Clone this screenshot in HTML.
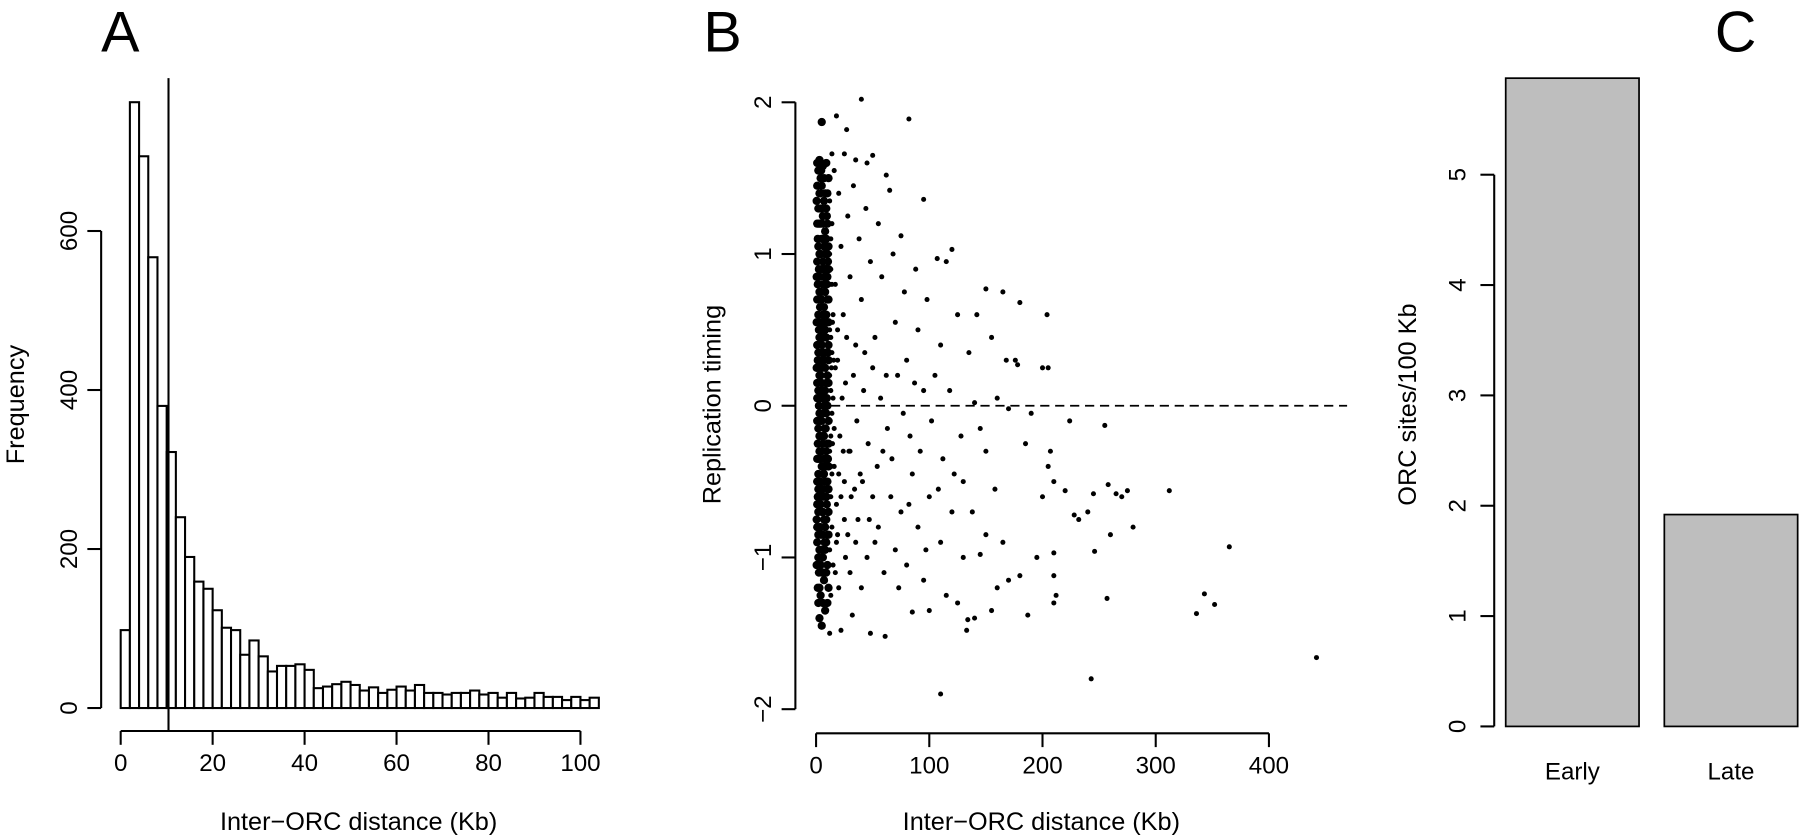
<!DOCTYPE html>
<html><head><meta charset="utf-8">
<style>
html,body{margin:0;padding:0;background:#fff;overflow:hidden;}
svg{display:block;font-family:"Liberation Sans",Arial,sans-serif;}
</style></head>
<body>
<svg id="fig" width="1800" height="835" viewBox="0 0 1800 835" xmlns="http://www.w3.org/2000/svg">
<g transform="scale(1.1494)">
<g id="pA"></g>
<g id="pB"></g>
<g id="pC"></g>
<g font-family="Liberation Sans, sans-serif">
<text x="88" y="45" font-size="50">A</text>
<text x="612" y="45" font-size="50">B</text>
<text x="1492" y="45" font-size="50">C</text>
<text x="312" y="722" font-size="22" text-anchor="middle">Inter−ORC distance (Kb)</text>
<text transform="translate(21,352) rotate(-90)" font-size="22" text-anchor="middle">Frequency</text>
<text x="906" y="722" font-size="22" text-anchor="middle">Inter−ORC distance (Kb)</text>
<text transform="translate(627,352) rotate(-90)" font-size="22" text-anchor="middle">Replication timing</text>
<text transform="translate(1232,352) rotate(-90)" font-size="22" text-anchor="middle">ORC sites/100 Kb</text>
</g>
</g>
</svg>
<script>
// ---------- Panel A data ----------
const histBinStart = 0;
const histBinWidth = 2;
const histCounts = [98,762,694,567,380,322,240,190,159,150,123,101,98,67,85,65,46,53,53,55,48,25,27,30,33,29,22,26,19,23,27,22,29,19,19,17,19,19,22,17,19,13,19,12,13,19,14,14,10,14,10,13];
const histYTicks = [0,200,400,600];
const histXTicks = [0,20,40,60,80,100];
const histMedian = [10.4];

// ---------- Panel B data ----------
const scatXTicks = [0,100,200,300,400];
const scatYTicks = [-2,-1,0,1,2];
const scatRefLine = [0];
const timingPoints = [
[40,2.02],[5,1.87],[18,1.91],[82,1.89],[27,1.82],[14,1.66],[110,-1.9],[243,-1.8],[442,-1.66],[365,-0.93],[343,-1.24],[352,-1.31],[336,-1.37],[312,-0.56],[280,-0.8],[275,-0.56],[270,-0.6],[265,-0.58],[258,-0.52],[260,-0.85],[257,-1.27],[245,-0.58],[246,-0.96],[240,-0.7],[232,-0.75],[228,-0.72],[220,-0.56],[224,-0.1],[255,-0.13],[204,0.6],[200,0.25],[205,0.25],[207,-0.3],[205,-0.4],[210,-0.5],[210,-0.97],[210,-1.12],[212,-1.25],[210,-1.3],[200,-0.6],[195,-1.0],[187,-1.38],[180,-1.12],[178,0.27],[176,0.3],[180,0.68],[165,0.75],[150,0.77],[120,1.03],[115,0.95],[107,0.97],[95,1.36],[75,1.12],[62,1.52],[65,1.42],[50,1.65],[45,1.6],[35,1.62],[25,1.66],[133,-1.48],[134,-1.41],[140,-1.4],[155,-1.35],[160,-1.2],[170,-1.15],[165,-0.9],[150,-0.85],[145,-0.98],[130,-1.0],[125,-1.3],[115,-1.25],[100,-1.35],[95,-1.15],[85,-1.36],[80,-1.05],[73,-1.2],[61,-1.52],[48,-1.5],[32,-1.38],[22,-1.48],[12,-1.5],[5,-1.45],[3,-1.4],
[140,0.02],[160,0.05],[170,-0.02],[190,-0.05],[185,-0.25],[150,-0.3],[130,-0.5],[120,-0.7],[110,-0.9],[100,-0.6],[90,-0.8],[85,-0.45],[75,-0.7],[70,-0.95],[60,-1.1],[55,-0.8],[50,-0.6],[45,-1.0],[40,-1.2],[35,-0.9],[30,-1.1],[25,-0.75],[20,-1.2],[18,-0.9],[15,-1.05],
[135,0.35],[125,0.6],[110,0.4],[105,0.2],[98,0.7],[90,0.5],[88,0.9],[80,0.3],[78,0.75],[70,0.55],[68,1.0],[62,0.2],[58,0.85],[55,1.2],[52,0.45],[48,0.95],[44,1.3],[42,0.1],[40,0.7],[38,1.1],[35,0.4],[33,1.45],[30,0.85],[28,1.25],[26,0.15],[24,0.6],[22,1.05],[20,1.4],[19,0.3],[17,0.8],[16,1.55],[15,0.05],
[145,-0.15],[128,-0.2],[118,0.1],[112,-0.35],[102,-0.1],[95,0.1],[92,-0.3],[87,0.15],[83,-0.2],[77,-0.05],[72,0.2],[67,-0.35],[63,-0.15],[57,0.05],[54,-0.4],[50,0.25],[46,-0.25],[43,0.35],[39,-0.45],[36,-0.1],[33,0.2],[31,-0.6],[29,-0.3],[27,0.45],[25,-0.5],[23,0.05],[21,-0.2],[19,0.5],[18,-0.65],[17,0.25],[16,-0.4],[15,0.6],
[155,0.45],[142,0.6],[168,0.3],[158,-0.55],[138,-0.7],[122,-0.45],[108,-0.55],[97,-0.95],[82,-0.65],[66,-0.6],[59,-0.3],[52,-0.9],[47,-0.75],[41,-0.5],[37,-0.75],[34,-0.55],[30,-0.3],[28,-0.85],[26,-1.0],[24,-0.3],[22,-0.6],[20,-0.45],[19,-0.85],[17,-1.1],[16,-0.15],[14,-0.8],[13,-1.25],
[14,1.2],[13,0.9],[12,1.35],[13,0.45],[12,0.7],[14,-0.45],[13,-0.6],[12,-0.95],[13,0.1],[12,-0.3],[14,0.35],[12,1.0],[11,1.5],[11,-1.2],[10,-1.3],[9,1.6],[8,-1.35],
[1,1.45],[2,1.3],[3,1.2],[4,1.4],[5,1.1],[6,1.25],[7,1.35],[8,1.15],[9,1.3],[10,1.2],[11,1.05],
[1,0.95],[2,1.05],[3,0.85],[4,1.0],[5,0.9],[6,0.95],[7,0.8],[8,1.0],[9,0.9],[10,0.85],[11,0.7],
[1,0.7],[2,0.6],[3,0.75],[4,0.55],[5,0.7],[6,0.6],[7,0.65],[8,0.5],[9,0.6],[10,0.55],[11,0.4],
[1,0.4],[2,0.35],[3,0.45],[4,0.3],[5,0.4],[6,0.35],[7,0.3],[8,0.25],[9,0.35],[10,0.2],[11,0.15],
[1,0.15],[2,0.1],[3,0.2],[4,0.05],[5,0.15],[6,0.1],[7,0.0],[8,0.1],[9,-0.05],[10,0.0],[11,-0.1],
[1,-0.1],[2,-0.15],[3,-0.05],[4,-0.2],[5,-0.1],[6,-0.25],[7,-0.2],[8,-0.15],[9,-0.3],[10,-0.25],[11,-0.4],
[1,-0.35],[2,-0.45],[3,-0.3],[4,-0.5],[5,-0.4],[6,-0.55],[7,-0.45],[8,-0.5],[9,-0.6],[10,-0.55],[11,-0.7],
[1,-0.65],[2,-0.7],[3,-0.6],[4,-0.8],[5,-0.7],[6,-0.85],[7,-0.75],[8,-0.8],[9,-0.9],[10,-0.85],
[1,-0.9],[2,-1.0],[3,-0.95],[4,-1.05],[5,-1.1],[6,-1.0],[7,-1.15],[3,-1.2],[2,-1.3],[4,-1.25],[6,-1.3],
[1,1.6],[2,1.55],[3,1.62],[4,1.5],[6,1.58],[2,1.2],[3,1.0],[5,1.3],[7,1.05],[9,1.1],[1,1.2],[1,0.05],[2,0.85],[3,0.55],[4,0.75],[5,0.5],[6,0.8],[7,0.45],[8,0.75],[9,0.45],[10,0.7],
[2,0.25],[3,-0.2],[4,0.2],[5,-0.3],[6,-0.05],[7,-0.35],[8,-0.35],[9,0.15],[10,-0.5],[5,-0.55],[4,-0.65],[3,-0.8],[2,-0.55],[7,-0.6],[8,-0.95],[9,-0.75],[6,-0.7],[1,-0.5],[1,-0.8],[2,-0.85],[5,-0.85],[3,1.4],[5,1.45],[7,1.5],[8,1.4],[10,1.4],[6,1.1],[4,1.2],[8,0.9],[10,1.0],[11,0.9],[11,0.55],[11,0.3],[11,-0.25],[11,-0.55],[11,-0.85],[10,-1.05],[9,-1.1],[12,0.2],[12,-0.6],[12,0.5],[13,-0.2],[14,-0.05],[14,0.8],[13,1.1],
[0.5,1.35],[1.5,1.1],[2.5,0.9],[3.5,0.65],[4.5,0.45],[5.5,0.25],[6.5,0.05],[7.5,-0.15],[8.5,-0.4],[9.5,-0.65],[0.5,-0.75],[1.5,-0.6],[2.5,-0.35],[3.5,-0.1],[4.5,0.1],[5.5,0.35],[6.5,0.55],[7.5,0.85],[8.5,1.05],[9.5,1.25],
[0.5,0.55],[1.5,0.3],[2.5,0.0],[3.5,-0.35],[4.5,-0.6],[5.5,-0.95],[6.5,-1.1],[0.5,-1.05],[1.5,-1.2],[2.5,-1.1],[0.5,0.85],[1.5,0.8],[2.5,0.5],[3.5,1.3],[4.5,1.55],[5.5,1.2],[6.5,0.9],[7.5,0.35],[8.5,0.6],[9.5,0.8],
[0.5,0.25],[1.5,-0.25],[2.5,-0.6],[3.5,-0.85],[4.5,-0.95],[5.5,-0.2],[6.5,-0.45],[7.5,-0.9],[8.5,-0.15],[9.5,0.05],[10.5,0.35],[10.5,-0.35],[10.5,0.95],[12.5,-0.1],[12.5,0.8],[13.5,0.25],[13.5,-0.4],[14.5,0.55],[14.5,-0.25],[15.5,0.3]
];

// ---------- Panel C data ----------
const barCategories = ["Early","Late"];
const barValues = [5.875,1.92];
const barYTicks = [0,1,2,3,4,5];

const NS="http://www.w3.org/2000/svg";
function mk(parent,tag,attrs,text){
  const e=document.createElementNS(NS,tag);
  for(const k in attrs) e.setAttribute(k,attrs[k]);
  if(text!==undefined) e.textContent=text;
  parent.appendChild(e);
  return e;
}
const S={stroke:"#000","stroke-width":1.8,fill:"none"};
const FS=21;

// ---------- Panel A ----------
(function(){
  const g=document.getElementById('pA');
  const xA=v=>105+v*4.0;
  const yA=v=>616-v*0.6917;
  histCounts.forEach((c,i)=>{
    const x0=xA(histBinStart+i*histBinWidth), x1=xA(histBinStart+(i+1)*histBinWidth);
    const r=mk(g,'rect',{x:x0,y:yA(c),width:x1-x0,height:yA(0)-yA(c),fill:"#fff",stroke:"#000","stroke-width":1.8});
    
    
  });
  histMedian.forEach(m=>{
    const l=mk(g,'line',{x1:xA(m),x2:xA(m),y1:68,y2:636,stroke:"#000","stroke-width":1.8});
    
    
  });
  const ya=mk(g,'line',Object.assign({x1:88,x2:88,y1:yA(histYTicks[0]),y2:yA(histYTicks[histYTicks.length-1])},S));
  
  
  histYTicks.forEach(t=>{
    mk(g,'line',Object.assign({x1:76,x2:88,y1:yA(t),y2:yA(t)},S));
    const tx=mk(g,'text',{x:0,y:0,"font-size":FS,"text-anchor":"middle",transform:`translate(67,${yA(t)}) rotate(-90)`},String(t));
    
    
  });
  const xa=mk(g,'line',Object.assign({x1:xA(histXTicks[0]),x2:xA(histXTicks[histXTicks.length-1]),y1:636,y2:636},S));
  
  
  histXTicks.forEach(t=>{
    mk(g,'line',Object.assign({x1:xA(t),x2:xA(t),y1:636,y2:648},S));
    const tx=mk(g,'text',{x:xA(t),y:671,"font-size":FS,"text-anchor":"middle"},String(t));
    
    
  });
})();

// ---------- Panel B ----------
(function(){
  const g=document.getElementById('pB');
  const xB=v=>710+v*0.985;
  const yB=v=>353-v*132;
  scatRefLine.forEach(v=>{
    const l=mk(g,'line',{x1:710,x2:1172,y1:yB(v),y2:yB(v),stroke:"#000","stroke-width":1.5,"stroke-dasharray":"8,5"});
    
    
  });
  timingPoints.forEach(p=>{
    const c=mk(g,'circle',{cx:xB(p[0]),cy:yB(p[1]),r:p[0]<12?3.6:2.2,fill:"#000"});
    
    
  });
  const ya=mk(g,'line',Object.assign({x1:692,x2:692,y1:yB(scatYTicks[0]),y2:yB(scatYTicks[scatYTicks.length-1])},S));
  
  
  scatYTicks.forEach(t=>{
    mk(g,'line',Object.assign({x1:680,x2:692,y1:yB(t),y2:yB(t)},S));
    const tx=mk(g,'text',{x:0,y:0,"font-size":FS,"text-anchor":"middle",transform:`translate(671,${yB(t)}) rotate(-90)`},t<0?"\u2212"+(-t):String(t));
    
    
  });
  const xa=mk(g,'line',Object.assign({x1:xB(scatXTicks[0]),x2:xB(scatXTicks[scatXTicks.length-1]),y1:638,y2:638},S));
  
  
  scatXTicks.forEach(t=>{
    mk(g,'line',Object.assign({x1:xB(t),x2:xB(t),y1:638,y2:650},S));
    const tx=mk(g,'text',{x:xB(t),y:673,"font-size":FS,"text-anchor":"middle"},String(t));
    
    
  });
})();

// ---------- Panel C ----------
(function(){
  const g=document.getElementById('pC');
  const yC=v=>632-v*96;
  const barX=[1310,1448], barW=[116,116];
  barValues.forEach((v,i)=>{
    const r=mk(g,'rect',{x:barX[i],y:yC(v),width:barW[i],height:yC(0)-yC(v),fill:"#bebebe",stroke:"#000","stroke-width":1.5});
    
    
    const tx=mk(g,'text',{x:barX[i]+barW[i]/2,y:678,"font-size":FS,"text-anchor":"middle"},barCategories[i]);
    
    
  });
  const ya=mk(g,'line',Object.assign({x1:1300,x2:1300,y1:yC(barYTicks[0]),y2:yC(barYTicks[barYTicks.length-1])},S));
  
  
  barYTicks.forEach(t=>{
    mk(g,'line',Object.assign({x1:1288,x2:1300,y1:yC(t),y2:yC(t)},S));
    const tx=mk(g,'text',{x:0,y:0,"font-size":FS,"text-anchor":"middle",transform:`translate(1275,${yC(t)}) rotate(-90)`},String(t));
    
    
  });
})();
</script>
</body></html>
